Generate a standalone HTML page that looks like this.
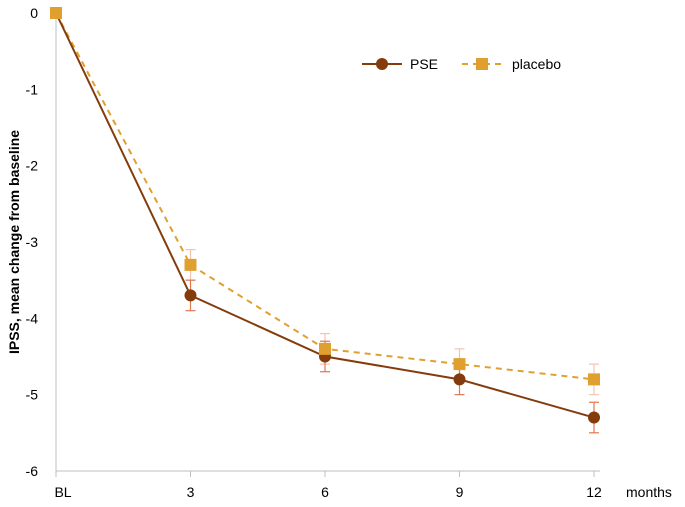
<!DOCTYPE html>
<html><head><meta charset="utf-8"><style>
body{margin:0;background:#fff;font-family:"Liberation Sans",sans-serif}
svg text{font-family:"Liberation Sans",sans-serif;font-size:14px;fill:#000}
</style></head><body>
<svg id="chart" width="685" height="502" xmlns="http://www.w3.org/2000/svg"></svg>
<script>
const categories=["BL","3","6","9","12"];
const pseValues=[0,-3.7,-4.5,-4.8,-5.3];
const pseErr=[0,0.2,0.2,0.2,0.2];
const placeboValues=[0,-3.3,-4.4,-4.6,-4.8];
const placeboErr=[0,0.2,0.2,0.2,0.2];
const yTicks=[0,-1,-2,-3,-4,-5,-6];
const NS="http://www.w3.org/2000/svg";
const svg=document.getElementById('chart');
const x=i=>56+i*134.5;
const y=v=>13+(-v)*76.33;
function el(t,a,p){const e=document.createElementNS(NS,t);for(const k in a)e.setAttribute(k,a[k]);(p||svg).appendChild(e);return e;}
let a=el('line',{x1:56,y1:13,x2:56,y2:471,stroke:'#bfbfbf','stroke-width':1});


a=el('line',{x1:56,y1:471,x2:600,y2:471,stroke:'#bfbfbf','stroke-width':1});


yTicks.forEach(v=>{
  const t=el('text',{x:38,y:y(v)+5,'text-anchor':'end'});t.textContent=v===0?'0':'-'+(-v);
  
  
});
categories.forEach((c,i)=>{
  const tk=el('line',{x1:x(i),y1:471,x2:x(i),y2:477,stroke:'#bfbfbf'});
  
  
  const t=el('text',{x:x(i)+(i===0?7:0),y:497,'text-anchor':'middle'});t.textContent=c;
  
  
});
let mt=el('text',{x:626,y:497});mt.textContent='months';


let yt=el('text',{x:0,y:0,transform:'translate(19,242) rotate(-90)','text-anchor':'middle','font-weight':'bold'});
yt.textContent='IPSS, mean change from baseline';


function errs(vals,er,col,name){
  vals.forEach((v,i)=>{ if(!er[i])return;
    const g=el('g',{stroke:col,'stroke-width':1.2});
    
    
    el('line',{x1:x(i),y1:y(v-er[i]),x2:x(i),y2:y(v+er[i])},g);
    el('line',{x1:x(i)-5,y1:y(v-er[i]),x2:x(i)+5,y2:y(v-er[i])},g);
    el('line',{x1:x(i)-5,y1:y(v+er[i]),x2:x(i)+5,y2:y(v+er[i])},g);
  });
}
errs(placeboValues,placeboErr,'#f2c4b0','placebo-error-bar');
errs(pseValues,pseErr,'#e07850','pse-error-bar');
let pl=el('polyline',{points:placeboValues.map((v,i)=>x(i)+','+y(v)).join(' '),fill:'none',stroke:'#e0a030','stroke-width':2,'stroke-dasharray':'6,5'});


let ps=el('polyline',{points:pseValues.map((v,i)=>x(i)+','+y(v)).join(' '),fill:'none',stroke:'#843c0c','stroke-width':2});


pseValues.forEach((v,i)=>{
  const c=el('circle',{cx:x(i),cy:y(v),r:6,fill:'#843c0c'});
  
  
});
placeboValues.forEach((v,i)=>{
  const r=el('rect',{x:x(i)-6,y:y(v)-6,width:12,height:12,fill:'#e0a030'});
  
  
});
let lg=el('g',{});


el('line',{x1:362,y1:64,x2:402,y2:64,stroke:'#843c0c','stroke-width':2},lg);
el('circle',{cx:382,cy:64,r:6,fill:'#843c0c'},lg);
let t1=el('text',{x:410,y:69},lg);t1.textContent='PSE';
el('line',{x1:462,y1:64,x2:502,y2:64,stroke:'#e0a030','stroke-width':2,'stroke-dasharray':'6,5'},lg);
el('rect',{x:476,y:58,width:12,height:12,fill:'#e0a030'},lg);
let t2=el('text',{x:512,y:69},lg);t2.textContent='placebo';
</script>
</body></html>
